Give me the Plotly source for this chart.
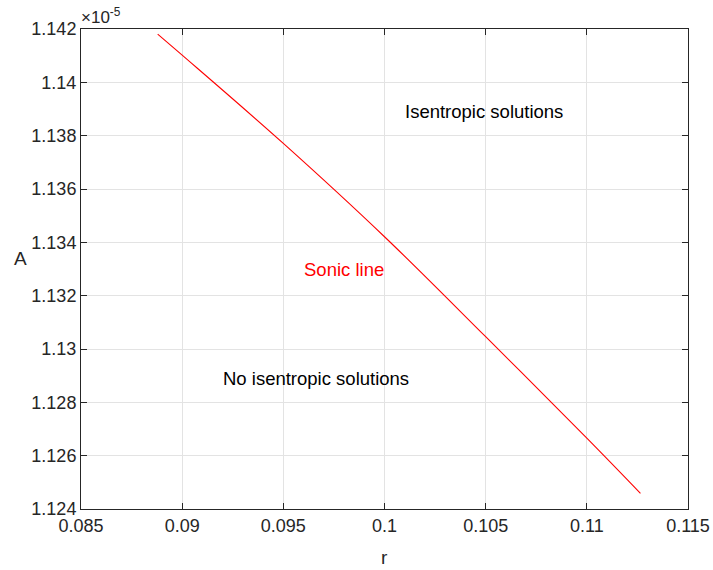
import plotly.graph_objects as go

# Sonic line (r, A in units of 1e-5)
r_vals = [0.08879, 0.0900, 0.0950, 0.1000, 0.1050, 0.1100, 0.11265]
A_vals = [1.14181, 1.14102, 1.13771, 1.13421, 1.13046, 1.12666, 1.12459]

x_ticks = [0.085, 0.09, 0.095, 0.1, 0.105, 0.11, 0.115]
x_ticktext = ["0.085", "0.09", "0.095", "0.1", "0.105", "0.11", "0.115"]
y_ticks = [1.124, 1.126, 1.128, 1.13, 1.132, 1.134, 1.136, 1.138, 1.14, 1.142]
y_ticktext = ["1.124", "1.126", "1.128", "1.13", "1.132", "1.134", "1.136", "1.138", "1.14", "1.142"]

labels = [
    (0.1010, 1.1389, "Isentropic solutions", "black"),
    (0.0960, 1.1330, "Sonic line", "red"),
    (0.0920, 1.1289, "No isentropic solutions", "black"),
]

FONT = "Liberation Sans, Arial, sans-serif"
DARK = "#262626"

fig = go.Figure()
fig.add_trace(go.Scatter(x=r_vals, y=A_vals, mode="lines",
                         line=dict(color="#ff0000", width=1.1, shape="spline"),
                         showlegend=False, hoverinfo="skip"))

for x, y, t, c in labels:
    fig.add_annotation(x=x, y=y, text=t, showarrow=False, xanchor="left",
                       yanchor="middle", xshift=-2,
                       font=dict(family=FONT, size=18.5, color=c))

# exponent label
fig.add_annotation(xref="paper", yref="paper", x=0, y=1, xanchor="left",
                   yanchor="bottom", yshift=0, xshift=-2, showarrow=False,
                   text="×10<sup>-5</sup>", font=dict(family=FONT, size=17, color=DARK))

# axis labels (A shown horizontally, as in the reference)
fig.add_annotation(xref="paper", yref="paper", x=0.5, y=0, xanchor="center",
                   yanchor="middle", yshift=-48, showarrow=False,
                   text="r", font=dict(family=FONT, size=19, color=DARK))
fig.add_annotation(xref="paper", yref="paper", x=0, y=0.5, xanchor="center",
                   yanchor="middle", xshift=-61, yshift=11, showarrow=False,
                   text="A", font=dict(family=FONT, size=19, color=DARK))

axis_common = dict(showgrid=True, gridcolor="#e3e3e3", gridwidth=1,
                   showline=True, linecolor=DARK, linewidth=1,
                   mirror="ticks", ticks="inside", ticklen=6, tickcolor=DARK,
                   zeroline=False, automargin=False,
                   tickfont=dict(family=FONT, size=18, color=DARK))

fig.update_xaxes(range=[0.085, 0.115], tickvals=x_ticks, ticktext=x_ticktext,
                 **axis_common)
fig.update_yaxes(range=[1.124, 1.142], tickvals=y_ticks, ticktext=y_ticktext,
                 **axis_common)

fig.update_layout(width=713, height=570, margin=dict(l=81, r=25, t=29, b=61),
                  plot_bgcolor="white", paper_bgcolor="white",
                  font=dict(family=FONT))
fig.write_html("out.html")
